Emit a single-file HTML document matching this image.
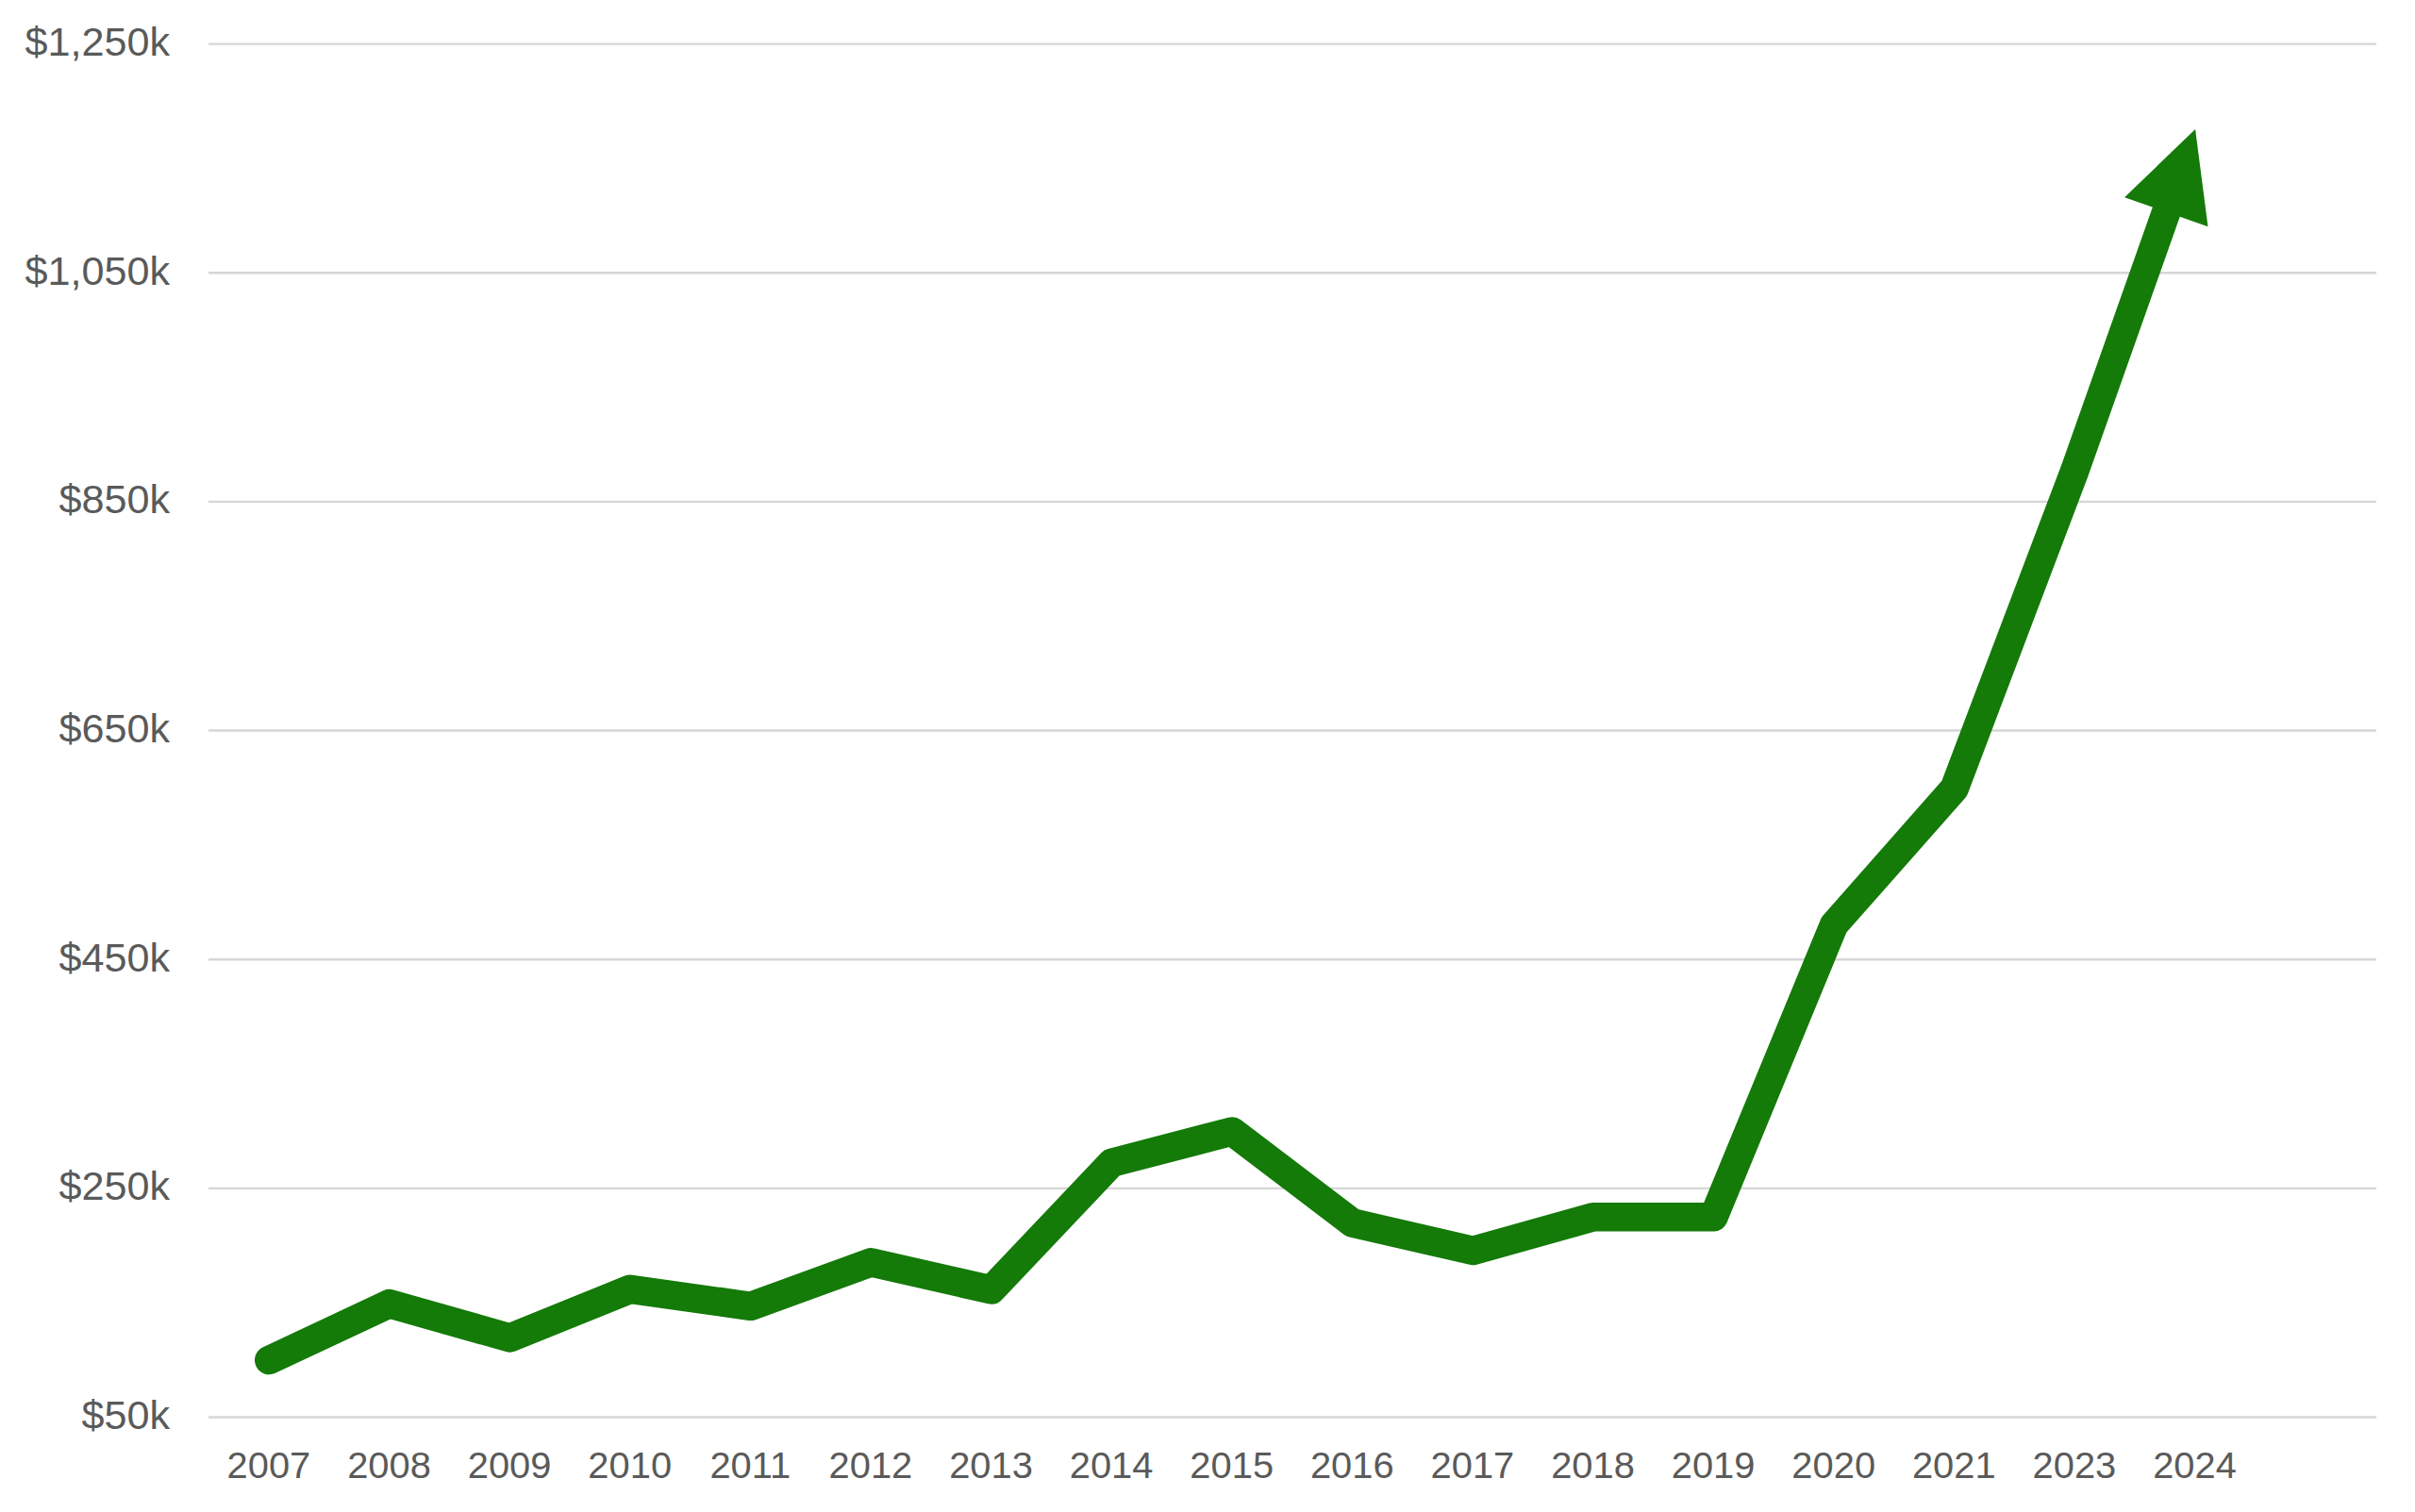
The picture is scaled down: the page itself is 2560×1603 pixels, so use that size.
<!DOCTYPE html>
<html lang="en"><head><meta charset="utf-8"><title>Chart</title>
<style>
html,body{margin:0;padding:0;background:#fff;}
body{width:2560px;height:1603px;overflow:hidden;}
svg{display:block;}
text{font-family:"Liberation Sans",Arial,Helvetica,sans-serif;fill:#5a5a5a;}
.yl{font-size:43.2px;text-anchor:end;}
.xl{font-size:39.9px;text-anchor:middle;}
</style></head><body>
<svg width="2560" height="1603" viewBox="0 0 2560 1603">
<rect width="2560" height="1603" fill="#fff"/>
<g stroke="#d6d6d6" stroke-width="2.4">
<line x1="221" x2="2519" y1="46.60" y2="46.60"/>
<line x1="221" x2="2519" y1="289.25" y2="289.25"/>
<line x1="221" x2="2519" y1="531.90" y2="531.90"/>
<line x1="221" x2="2519" y1="774.55" y2="774.55"/>
<line x1="221" x2="2519" y1="1017.20" y2="1017.20"/>
<line x1="221" x2="2519" y1="1259.85" y2="1259.85"/>
<line x1="221" x2="2519" y1="1502.50" y2="1502.50"/>
</g>
<g class="yl">
<text class="yl" transform="translate(180.1,58.95) scale(1,0.978)">$1,250k</text>
<text class="yl" transform="translate(180.1,301.60) scale(1,0.978)">$1,050k</text>
<text class="yl" transform="translate(180.1,544.25) scale(1,0.978)">$850k</text>
<text class="yl" transform="translate(180.1,786.90) scale(1,0.978)">$650k</text>
<text class="yl" transform="translate(180.1,1029.55) scale(1,0.978)">$450k</text>
<text class="yl" transform="translate(180.1,1272.20) scale(1,0.978)">$250k</text>
<text class="yl" transform="translate(180.1,1514.85) scale(1,0.978)">$50k</text>
</g>
<g class="xl">
<text class="xl" transform="translate(284.90,1567.1) scale(1,0.975)">2007</text>
<text class="xl" transform="translate(412.50,1567.1) scale(1,0.975)">2008</text>
<text class="xl" transform="translate(540.10,1567.1) scale(1,0.975)">2009</text>
<text class="xl" transform="translate(667.70,1567.1) scale(1,0.975)">2010</text>
<text class="xl" transform="translate(795.30,1567.1) scale(1,0.975)">2011</text>
<text class="xl" transform="translate(922.90,1567.1) scale(1,0.975)">2012</text>
<text class="xl" transform="translate(1050.50,1567.1) scale(1,0.975)">2013</text>
<text class="xl" transform="translate(1178.10,1567.1) scale(1,0.975)">2014</text>
<text class="xl" transform="translate(1305.70,1567.1) scale(1,0.975)">2015</text>
<text class="xl" transform="translate(1433.30,1567.1) scale(1,0.975)">2016</text>
<text class="xl" transform="translate(1560.90,1567.1) scale(1,0.975)">2017</text>
<text class="xl" transform="translate(1688.50,1567.1) scale(1,0.975)">2018</text>
<text class="xl" transform="translate(1816.10,1567.1) scale(1,0.975)">2019</text>
<text class="xl" transform="translate(1943.70,1567.1) scale(1,0.975)">2020</text>
<text class="xl" transform="translate(2071.30,1567.1) scale(1,0.975)">2021</text>
<text class="xl" transform="translate(2198.90,1567.1) scale(1,0.975)">2023</text>
<text class="xl" transform="translate(2326.50,1567.1) scale(1,0.975)">2024</text>
</g>
<polygon points="2327.1,137.1 2252.1,209.2 2340.5,240.2" fill="#147a08"/>
<path d="M285.3,1442.0 L412.9,1382.2 L540.5,1418.4 L668.1,1366.8 L795.7,1384.8 L923.3,1338.3 L1050.9,1367.4 L1178.5,1232.8 L1306.1,1199.5 L1433.7,1296.5 L1561.3,1325.9 L1688.9,1290.2 L1816.5,1290.2 L1944.1,980.5 L2071.7,835.8 L2199.3,499.0 L2296.3,224.7" fill="none" stroke="#147a08" stroke-width="30.6" stroke-linecap="round" stroke-linejoin="round"/>
</svg></body></html>
